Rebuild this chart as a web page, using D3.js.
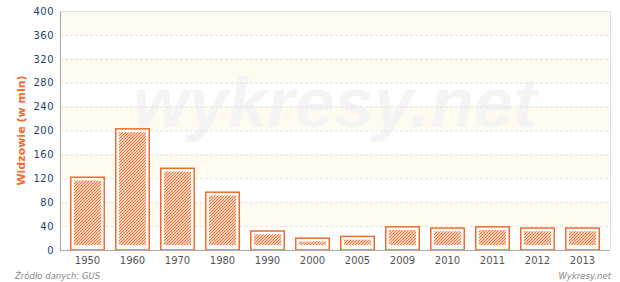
<!DOCTYPE html>
<html><head><meta charset="utf-8">
<script src="https://cdn.jsdelivr.net/npm/d3@7"></script>
<style>body{margin:0;background:#fff}svg{display:block}</style>
</head><body>
<script>
const categories = ["1950","1960","1970","1980","1990","2000","2005","2009","2010","2011","2012","2013"];
const values = [123, 204, 138, 98, 33, 21, 24, 40, 38, 40, 38, 38];
const yTicks = [0,40,80,120,160,200,240,280,320,360,400];
const yLabel = "Widzowie (w mln)";
const source = "Źródło danych: GUS";
const brand = "Wykresy.net";
const watermark = "wykresy.net";

const W = 620, H = 282;
const m = {l:60, r:10, t:11, b:32};
const orange = "#f26b2a";
const svg = d3.select("body").append("svg").attr("width", W).attr("height", H);
const defs = svg.append("defs");
const pat = defs.append("pattern").attr("id","hatch").attr("patternUnits","userSpaceOnUse")
  .attr("width",3).attr("height",3);
pat.append("path").attr("d","M-1,1 l2,-2 M0,3 l3,-3 M2,4 l2,-2").attr("stroke",orange).attr("stroke-width",1.2);

const x = d3.scaleBand().domain(categories).range([m.l+5, W-m.r-5]).paddingInner(10/45).paddingOuter(5/45);
const y = d3.scaleLinear().domain([0,400]).range([H-m.b, m.t]);

// bands
for (let i=0;i<yTicks.length-1;i++){
  if (i%2===1) svg.append("rect").attr("x",m.l).attr("width",W-m.r-m.l)
    .attr("y",y(yTicks[i+1])).attr("height",y(yTicks[i])-y(yTicks[i+1])).attr("fill","#fffbf0");
}
// watermark
svg.append("text").attr("x",335).attr("y",127).attr("text-anchor","middle")
  .attr("font-family","Liberation Sans, Arial, sans-serif").attr("font-weight","bold").attr("font-style","italic")
  .attr("font-size",71).attr("fill","#f4f4f4").text(watermark);
// grid
svg.append("g").selectAll("line").data(yTicks.filter(d=>d>0)).join("line")
  .attr("x1",m.l).attr("x2",W-m.r).attr("y1",d=>y(d)+0.5).attr("y2",d=>y(d)+0.5)
  .attr("stroke","#e2e2e2").attr("stroke-dasharray","3,2");
// border
svg.append("line").attr("x1",m.l).attr("x2",W-m.r).attr("y1",m.t+0.5).attr("y2",m.t+0.5).attr("stroke","#e0e0e0");
svg.append("line").attr("x1",W-m.r+0.5).attr("x2",W-m.r+0.5).attr("y1",m.t).attr("y2",H-m.b).attr("stroke","#e0e0e0");

// bars
const g = svg.append("g");
g.selectAll("rect.o").data(values).join("rect").attr("class","o")
  .attr("x",(d,i)=>x(categories[i])+0.75).attr("width",x.bandwidth()-1.5)
  .attr("y",d=>y(d)+0.75).attr("height",d=>y(0)-y(d)-0.75)
  .attr("fill","#fff").attr("stroke",orange).attr("stroke-width",1.5);
g.selectAll("rect.h").data(values).join("rect").attr("class","h")
  .attr("x",(d,i)=>x(categories[i])+4).attr("width",x.bandwidth()-8)
  .attr("y",d=>y(d)+4).attr("height",d=>Math.max(0,y(0)-y(d)-9))
  .attr("fill","url(#hatch)");

// axes
const ya = d3.axisLeft(y).tickValues(yTicks).tickSize(0).tickPadding(6);
const yg = svg.append("g").attr("transform",`translate(${m.l},0)`).call(ya);
yg.select(".domain").attr("stroke","#aaa");
yg.selectAll("text").attr("font-family","DejaVu Sans, Verdana, sans-serif").attr("font-size",10).attr("fill","#1f3f6f").attr("letter-spacing",0.5);
const xa = d3.axisBottom(x).tickSize(0).tickPadding(7);
const xg = svg.append("g").attr("transform",`translate(0,${H-m.b})`).call(xa);
xg.select(".domain").attr("stroke","#aaa").attr("d",`M${m.l},0.5H${W-m.r}`);
xg.selectAll("text").attr("font-family","DejaVu Sans, Verdana, sans-serif").attr("font-size",10).attr("fill","#555");

svg.append("text").attr("transform",`translate(25,${(m.t+H-m.b)/2}) rotate(-90)`).attr("text-anchor","middle")
  .attr("font-family","DejaVu Sans, Verdana, sans-serif").attr("font-weight","bold").attr("font-size",11)
  .attr("fill",orange).text(yLabel);
svg.append("text").attr("x",15).attr("y",279).attr("font-family","DejaVu Sans, Verdana, sans-serif")
  .attr("font-style","italic").attr("font-size",8.5).attr("fill","#888").text(source);
svg.append("text").attr("x",611).attr("y",279).attr("text-anchor","end").attr("font-family","DejaVu Sans, Verdana, sans-serif")
  .attr("font-style","italic").attr("font-size",8.5).attr("fill","#888").text(brand);
</script>
</body></html>
